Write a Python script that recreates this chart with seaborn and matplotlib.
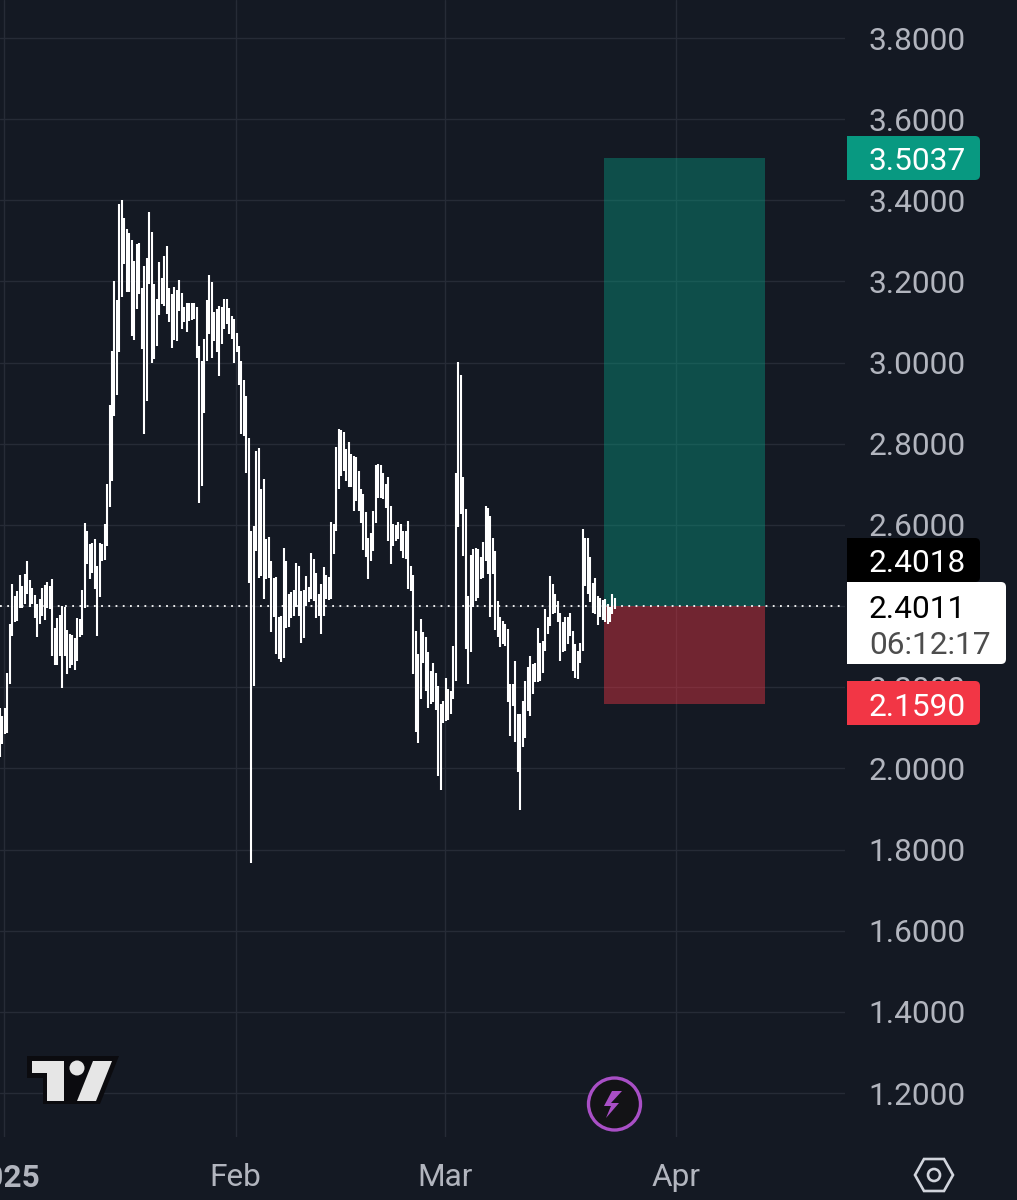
import matplotlib
matplotlib.use("Agg")
import matplotlib.pyplot as plt
from matplotlib.patches import Circle, FancyBboxPatch, Polygon, Rectangle
from matplotlib.transforms import ScaledTranslation
import pandas as pd
import seaborn as sns

# 8 hour bars
lows = [
    2.028, 2.060, 2.084, 2.088, 2.209, 2.326, 2.362, 2.363, 2.395, 2.396, 2.404, 2.429, 2.398, 2.404, 2.370,
    2.325, 2.357, 2.376, 2.365, 2.396, 2.392, 2.276, 2.255, 2.255, 2.276, 2.197, 2.277, 2.232, 2.248, 2.255,
    2.243, 2.265, 2.324, 2.329, 2.395, 2.505, 2.466, 2.482, 2.441, 2.327, 2.423, 2.510, 2.513,
    2.548, 2.645, 2.709, 2.869, 2.921, 3.025, 3.162, 3.242, 3.175, 3.175, 3.066, 3.056, 3.131, 3.170, 3.033,
    2.825, 2.906, 3.193, 2.998, 3.008, 3.041, 3.118, 3.144, 3.140, 3.121, 3.099, 3.035, 3.055, 3.054, 3.127,
    3.082, 3.099, 3.076, 3.103, 3.104, 3.107, 3.011, 2.653, 2.696, 2.875, 3.004, 3.070, 3.011, 3.054, 3.025,
    2.966, 3.045, 3.082, 3.095, 3.070, 3.058, 3.000, 3.025, 2.945, 2.825, 2.820, 2.729, 2.458, 1.768, 2.203,
    2.536, 2.470, 2.474, 2.418, 2.466, 2.470, 2.337, 2.373, 2.283, 2.269, 2.262, 2.273, 2.345, 2.349, 2.370,
    2.376, 2.398, 2.376, 2.308, 2.321, 2.400, 2.409, 2.417, 2.413, 2.370, 2.376,
    2.331, 2.376, 2.417, 2.415, 2.417, 2.528, 2.585, 2.688, 2.721, 2.733, 2.709, 2.694, 2.694, 2.635, 2.659,
    2.635, 2.606, 2.538, 2.521, 2.466, 2.511, 2.536, 2.606, 2.667, 2.667, 2.663, 2.643, 2.561, 2.505, 2.548,
    2.561, 2.565, 2.536, 2.518, 2.516, 2.442, 2.438, 2.232, 2.089, 2.062, 2.171, 2.261, 2.191, 2.150, 2.158,
    2.163, 2.144, 1.982, 1.947, 2.113, 2.117, 2.119, 2.134, 2.171, 2.216, 2.594, 2.626, 2.524, 2.294, 2.209,
    2.286, 2.397, 2.413, 2.421, 2.466, 2.470, 2.511, 2.480, 2.372, 2.479, 2.341, 2.323, 2.300, 2.306, 2.302,
    2.163, 2.080, 2.154, 2.064, 1.990, 1.897, 2.053, 2.076, 2.142, 2.130, 2.183, 2.212, 2.212, 2.216, 2.236,
    2.290, 2.331, 2.351, 2.380, 2.384, 2.360, 2.265, 2.286, 2.290, 2.306, 2.327, 2.241, 2.222, 2.220, 2.261,
    2.290, 2.450, 2.429, 2.409, 2.384, 2.380, 2.354, 2.372, 2.365, 2.360, 2.357, 2.362, 2.380, 2.392,
]
highs = [
    2.150, 2.129, 2.150, 2.235, 2.355, 2.454, 2.425, 2.437, 2.477, 2.450, 2.480, 2.510, 2.464, 2.444, 2.427,
    2.404, 2.417, 2.444, 2.452, 2.460, 2.450, 2.468, 2.347, 2.370, 2.377, 2.400, 2.398, 2.340, 2.331, 2.328,
    2.322, 2.370, 2.368, 2.439, 2.606, 2.585, 2.552, 2.556, 2.565, 2.499, 2.556, 2.554, 2.603,
    2.700, 2.896, 3.029, 3.201, 3.154, 3.392, 3.402, 3.356, 3.329, 3.320, 3.301, 3.251, 3.293, 3.296, 3.183,
    3.238, 3.257, 3.372, 3.323, 3.195, 3.156, 3.248, 3.208, 3.263, 3.288, 3.183, 3.168, 3.187, 3.178, 3.204,
    3.171, 3.137, 3.146, 3.146, 3.146, 3.146, 3.138, 3.040, 3.004, 3.059, 3.154, 3.215, 3.199, 3.126, 3.132,
    3.140, 3.137, 3.156, 3.156, 3.134, 3.115, 3.107, 3.074, 3.041, 3.004, 2.957, 2.918, 2.815, 2.586, 2.597,
    2.783, 2.789, 2.688, 2.713, 2.565, 2.570, 2.510, 2.470, 2.472, 2.373, 2.376, 2.542, 2.510, 2.429, 2.436,
    2.439, 2.507, 2.499, 2.437, 2.439, 2.474, 2.447, 2.530, 2.515, 2.482, 2.429,
    2.454, 2.497, 2.477, 2.472, 2.608, 2.602, 2.791, 2.836, 2.833, 2.828, 2.787, 2.805, 2.776, 2.769, 2.768,
    2.733, 2.688, 2.676, 2.632, 2.569, 2.581, 2.635, 2.748, 2.750, 2.748, 2.727, 2.700, 2.717, 2.647, 2.602,
    2.600, 2.608, 2.602, 2.585, 2.585, 2.610, 2.499, 2.477, 2.339, 2.282, 2.368, 2.335, 2.324, 2.286, 2.241,
    2.259, 2.236, 2.204, 2.158, 2.167, 2.222, 2.195, 2.190, 2.302, 2.727, 3.002, 2.970, 2.718, 2.639, 2.425,
    2.526, 2.540, 2.543, 2.540, 2.520, 2.557, 2.647, 2.641, 2.622, 2.569, 2.536, 2.413, 2.372, 2.364, 2.355,
    2.343, 2.208, 2.208, 2.264, 2.134, 2.134, 2.167, 2.216, 2.249, 2.278, 2.257, 2.261, 2.347, 2.310, 2.314,
    2.392, 2.372, 2.475, 2.454, 2.429, 2.413, 2.384, 2.360, 2.372, 2.372, 2.382, 2.339, 2.306, 2.290, 2.310,
    2.591, 2.569, 2.567, 2.520, 2.458, 2.469, 2.425, 2.421, 2.415, 2.417, 2.405, 2.397, 2.429, 2.421,
]
first_bar = "2024-12-31 11:00"

price_ticks = [1.2, 1.4, 1.6, 1.8, 2.0, 2.2, 2.4, 2.6, 2.8, 3.0, 3.2, 3.4, 3.6, 3.8]
month_ticks = ["2025-01-01", "2025-02-01", "2025-03-01", "2025-04-01"]
month_labels = ["2025", "Feb", "Mar", "Apr"]

target = 3.5037
entry = 2.4011
stop = 2.1590
other_price = 2.4018
countdown = "06:12:17"
box_start = "2025-03-22 07:00"
box_end = "2025-04-12 21:00"

bg = "#141923"
grid = "#262b36"
axis_text = "#b2b5be"
teal = "#089981"
red = "#f23645"

sns.set_theme(style="darkgrid", rc={
    "figure.facecolor": bg,
    "axes.facecolor": bg,
    "grid.color": grid,
    "grid.linewidth": 1.0,
})
plt.rcParams["font.family"] = ["Roboto", "DejaVu Sans"]

times = pd.date_range(first_bar, periods=len(highs), freq="8h")
bars = pd.DataFrame({"time": times, "low": lows, "high": highs})
bars["bar"] = range(len(bars))
long_bars = bars.melt(id_vars=["bar", "time"], value_vars=["low", "high"], value_name="price")

fig = plt.figure(figsize=(10.17, 12), dpi=100)
ax = fig.add_axes([0, 1 - 1137 / 1200, 845 / 1017, 1137 / 1200])

# the long position box
ax.fill_between(pd.to_datetime([box_start, box_end]), entry, target, color=teal, alpha=0.42, lw=0, zorder=1.5)
ax.fill_between(pd.to_datetime([box_start, box_end]), stop, entry, color=red, alpha=0.42, lw=0, zorder=1.5)

sns.lineplot(data=long_bars, x="time", y="price", units="bar", estimator=None, color="white",
             linewidth=1.5, solid_capstyle="butt", legend=False, ax=ax, zorder=3)
ax.axhline(entry, color="white", lw=1.3, ls=(0, (1, 3)), zorder=4)

# 7.47 px a day, Jan 1 at x=4
ax.set_xlim(pd.Timestamp("2025-01-01") - pd.Timedelta(days=4 / 7.47),
            pd.Timestamp("2025-01-01") + pd.Timedelta(days=841 / 7.47))
ax.set_ylim(3.8 - 1099 / 405.8, 3.8 + 38 / 405.8)
ax.set_xlabel("")
ax.set_ylabel("")
ax.set_xticks(pd.to_datetime(month_ticks))
ax.set_xticklabels(month_labels)
ax.set_yticks(price_ticks)
ax.set_yticklabels([f"{p:.4f}" for p in price_ticks])
ax.yaxis.tick_right()
ax.tick_params(axis="y", length=0, pad=17, labelsize=22.8, labelcolor=axis_text)
ax.tick_params(axis="x", length=0, pad=19, labelsize=22.8, labelcolor=axis_text)
ax.get_xticklabels()[0].set_fontweight("bold")
for s in ax.spines.values():
    s.set_visible(False)

# overlay in pixels for price tags and icons
over = fig.add_axes([0, 0, 1, 1], zorder=5)
over.set_xlim(0, 1017)
over.set_ylim(1200, 0)
over.axis("off")
over.patch.set_alpha(0)


def tag(y0, y1, x1, color):
    over.add_patch(FancyBboxPatch((852, y0 + 5), x1 - 857, y1 - y0 - 10, boxstyle="round,pad=5,rounding_size=5",
                                  fc=color, ec="none"))
    over.add_patch(Rectangle((847, y0), 15, y1 - y0, fc=color, ec="none"))


tag(136, 180, 980, teal)
tag(538, 582, 980, "#000000")
tag(681, 725, 980, red)
tag(582, 664, 1006, "#ffffff")
for label, y, color in [(f"{target:.4f}", 158, "white"), (f"{other_price:.4f}", 561, "white"),
                        (f"{stop:.4f}", 704, "white"), (f"{entry:.4f}", 606, "black"), (countdown, 643, "#4d4d4d")]:
    over.text(869, y, label, color=color, fontsize=22.8, va="center_baseline", ha="left")

# logo
over.add_patch(Polygon([(27, 1056), (119, 1056), (100, 1104), (43, 1104), (43, 1078), (27, 1078)], fc="#0b0b0f", ec="none"))
over.add_patch(Polygon([(32, 1061), (64, 1061), (64, 1101), (47, 1101), (47, 1073), (32, 1073)], fc="#e6e6e6", ec="none"))
over.add_patch(Circle((77, 1068), 7.5, fc="#e6e6e6", ec="none"))
over.add_patch(Polygon([(93, 1061), (112, 1061), (96, 1101), (77, 1101)], fc="#e6e6e6", ec="none"))

# lightning badge
over.add_patch(Circle((614.5, 1104), 26, fc="#131316", ec="#a94fc6", lw=2.4))
over.add_patch(Polygon([(622, 1091), (611, 1103), (619, 1103), (606, 1118), (611, 1106), (604, 1106), (612, 1091)],
                       fc="#a94fc6", ec="none"))

# settings hexagon
over.add_patch(Polygon([(915, 1175), (924, 1159), (944, 1159), (953, 1175), (944, 1191), (924, 1191)],
                       fc="none", ec="#d1d4dc", lw=1.9))
over.add_patch(Circle((934, 1175), 6, fc="none", ec="#d1d4dc", lw=1.9))

fig.savefig("out.png", dpi=100, facecolor=bg)
